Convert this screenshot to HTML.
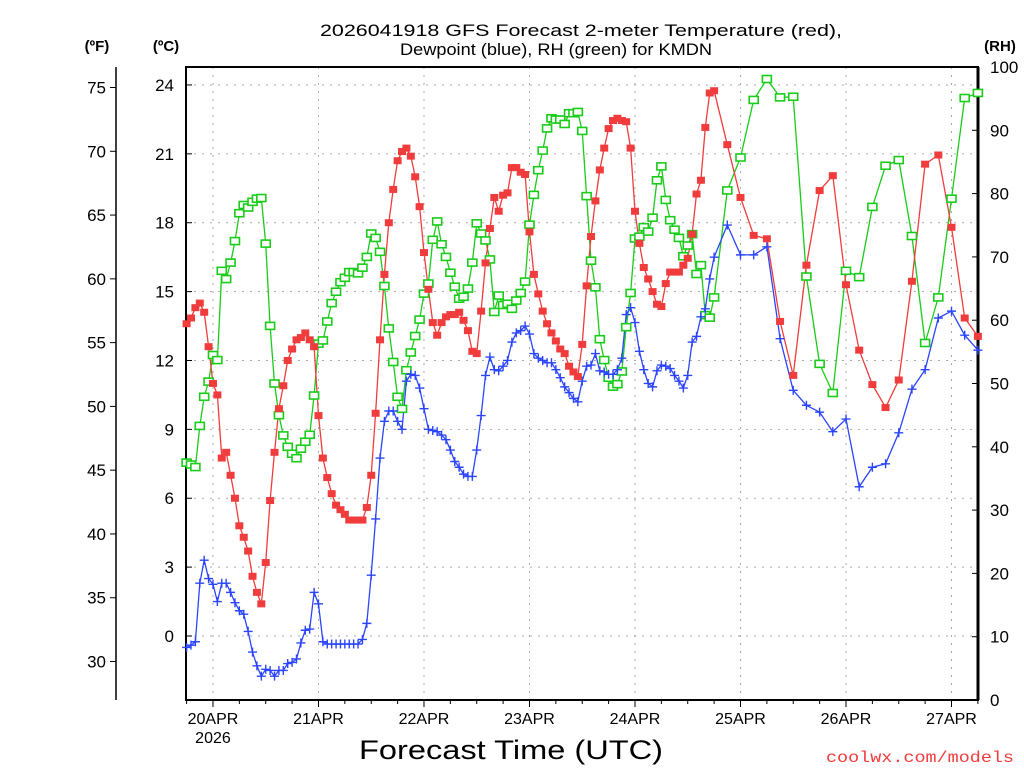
<!DOCTYPE html>
<html><head><meta charset="utf-8"><style>
html,body{margin:0;padding:0;background:#fff;width:1024px;height:768px;overflow:hidden}
svg text{font-family:"Liberation Sans",sans-serif}
</style></head><body>
<svg id="chart" width="1024" height="768" xmlns="http://www.w3.org/2000/svg">
<g id="grid"></g>
<g id="axes"></g>
<g id="series"></g>
<text x="581" y="36" text-anchor="middle" font-size="17" textLength="522" lengthAdjust="spacingAndGlyphs">2026041918 GFS Forecast 2-meter Temperature (red),</text>
<text x="556" y="55" text-anchor="middle" font-size="17" textLength="312" lengthAdjust="spacingAndGlyphs">Dewpoint (blue), RH (green) for KMDN</text>
<text x="97" y="51" text-anchor="middle" font-size="15" font-weight="bold">(ºF)</text>
<text x="166" y="51" text-anchor="middle" font-size="15" font-weight="bold">(ºC)</text>
<text x="1000" y="51" text-anchor="middle" font-size="15" font-weight="bold">(RH)</text>
<text x="511" y="759" text-anchor="middle" font-size="27" textLength="304" lengthAdjust="spacingAndGlyphs">Forecast Time (UTC)</text>
<text x="920" y="762" text-anchor="middle" font-size="16" fill="#f03c3c" textLength="188" lengthAdjust="spacingAndGlyphs" style="font-family:'Liberation Mono',monospace">coolwx.com/models</text>
</svg>
<script>
const tempHours = [];
for (let h = 0; h <= 120; h++) tempHours.push(h);
for (let h = 123; h <= 180; h += 3) tempHours.push(h);
const tempC = [13.6,13.85,14.3,14.5,14.1,12.6,11.0,10.5,7.75,8.0,
7.0,6.0,4.8,4.3,3.7,2.6,1.9,1.4,3.2,5.9,
8.0,9.9,10.9,12.0,12.5,12.9,13.0,13.2,12.9,12.6,
9.6,7.75,6.9,6.2,5.7,5.5,5.3,5.05,5.05,5.05,
5.05,5.6,7.0,9.7,12.9,15.75,18.0,19.45,20.7,21.1,
21.25,20.9,20.0,18.7,16.7,15.1,13.65,13.1,13.65,13.9,
14.0,14.0,14.1,13.75,13.3,12.4,12.3,14.15,16.25,17.75,
19.1,18.5,19.2,19.3,20.4,20.4,20.2,20.1,17.6,15.75,
14.9,14.15,13.6,13.2,12.85,12.5,12.3,11.75,11.5,11.3,
12.7,15.25,17.4,18.95,20.3,21.25,22.1,22.45,22.55,22.45,
22.4,21.25,18.5,17.1,16.05,15.55,15.0,14.45,14.35,15.35,
15.85,15.85,15.85,16.15,16.45,17.5,19.25,19.85,22.15,23.65,
23.75,
21.4,19.1,17.45,17.3,13.7,11.35,16.15,19.4,20.05,15.3,12.45,10.95,9.95,11.15,15.45,20.55,20.95,17.8,13.85,13.05];
const dewC = [-0.5,-0.4,-0.25,2.3,3.3,2.5,2.25,1.5,2.3,2.3,
1.9,1.45,1.1,0.95,0.2,-0.7,-1.3,-1.75,-1.45,-1.5,
-1.75,-1.5,-1.5,-1.2,-1.15,-1.0,-0.3,0.25,0.3,1.9,
1.4,-0.25,-0.35,-0.35,-0.35,-0.35,-0.35,-0.35,-0.35,-0.35,
-0.15,0.55,2.65,5.1,7.75,9.35,9.8,9.8,9.35,9.0,
11.1,11.4,11.35,10.8,9.9,9.0,8.95,8.9,8.75,8.55,
8.1,7.6,7.35,7.05,6.95,6.95,8.1,9.6,11.35,12.15,
11.6,11.55,11.75,12.0,12.8,13.2,13.3,13.5,13.15,12.3,
12.1,12.0,11.9,11.9,11.6,11.25,10.85,10.6,10.35,10.2,
11.1,11.75,11.8,12.3,11.55,11.5,11.4,11.4,11.6,12.1,
14.0,14.3,13.65,12.4,11.6,11.0,10.85,11.55,11.8,11.75,
11.65,11.35,11.1,10.8,11.35,12.8,13.05,13.9,14.25,15.55,
16.5,
17.9,16.6,16.6,16.95,12.95,10.7,10.05,9.75,8.9,9.45,6.5,7.35,7.5,8.85,10.75,11.6,13.85,14.15,13.1,12.45];
const rhPct = [37.5,37.2,36.8,43.3,47.9,50.3,54.5,53.7,67.8,66.5,
69.1,72.5,76.9,78.2,77.8,78.7,79.2,79.3,72.1,59.1,
50.0,45.0,41.8,40.0,38.9,38.2,39.7,40.8,41.9,48.1,
56.3,56.8,59.8,62.7,64.5,66.0,66.7,67.6,67.6,67.4,
68.3,70.0,73.7,73.0,70.8,65.4,58.7,53.4,47.9,46.0,
52.1,54.9,57.5,60.1,64.2,65.8,72.7,75.6,72.0,70.0,
67.5,65.3,63.4,63.7,65.0,69.1,75.3,73.7,72.6,69.6,
61.3,63.9,62.4,62.6,61.8,63.1,64.3,66.1,75.1,79.8,
83.7,86.8,90.3,91.9,91.7,91.7,91.0,92.7,92.7,92.9,
89.9,79.6,69.4,65.2,57.0,53.7,50.9,49.5,49.9,51.9,
58.9,64.3,72.9,73.2,74.7,74.0,76.2,82.1,84.3,79.0,
75.8,74.3,73.0,70.1,71.8,73.6,67.3,68.7,60.8,60.4,
63.6,
80.5,85.7,94.8,98.1,95.2,95.3,66.9,53.1,48.5,67.8,66.8,77.9,84.4,85.3,73.3,56.4,63.6,79.2,95.1,95.9];
const celsiusTicks = [0,3,6,9,12,15,18,21,24];
const fahrenheitTicks = [30,35,40,45,50,55,60,65,70,75];
const rhTicks = [0,10,20,30,40,50,60,70,80,90,100];
const dayLabels = ["20APR","21APR","22APR","23APR","24APR","25APR","26APR","27APR"];
const dayHours = [6,30,54,78,102,126,150,174];

const L=186, R=978, T=67, B=700;
function xH(h){return 186.6 + h*4.396;}
function yC(c){return 636 - c*22.96;}
function yRH(r){return 700 - r*6.33;}
function yF(f){return yC((f-32)*5/9);}
const NS="http://www.w3.org/2000/svg";
function mk(tag, attrs, parent){const e=document.createElementNS(NS,tag);for(const k in attrs)e.setAttribute(k,attrs[k]);parent.appendChild(e);return e;}
const grid=document.getElementById('grid'), axes=document.getElementById('axes'), series=document.getElementById('series');

celsiusTicks.forEach(c=>{
  const l=mk('line',{x1:L,x2:R,y1:yC(c),y2:yC(c),stroke:'#aaa','stroke-width':1,'stroke-dasharray':'2,6'},grid);
  
  
  mk('line',{x1:L,x2:L+6,y1:yC(c),y2:yC(c),stroke:'#000','stroke-width':1},axes);
  const tx=mk('text',{x:L-12,y:yC(c)+6,'text-anchor':'end','font-size':17},axes);
  tx.textContent=c;
  
  
});
dayHours.forEach((h,i)=>{
  const l=mk('line',{x1:xH(h),x2:xH(h),y1:T,y2:B,stroke:'#aaa','stroke-width':1,'stroke-dasharray':'2,6'},grid);
  
  
  mk('line',{x1:xH(h),x2:xH(h),y1:B,y2:B+7,stroke:'#000','stroke-width':1},axes);
  const tx=mk('text',{x:xH(h),y:724,'text-anchor':'middle','font-size':16},axes);
  tx.textContent=dayLabels[i];
  
  
});
for(let h=0;h<=180;h+=6){mk('line',{x1:xH(h),x2:xH(h),y1:B,y2:B+4,stroke:'#000','stroke-width':1},axes);}
const yr=mk('text',{x:xH(6),y:743,'text-anchor':'middle','font-size':16},axes);
yr.textContent='2026';



const fl=mk('line',{x1:116,x2:116,y1:T,y2:B,stroke:'#000','stroke-width':1.5},axes);


fahrenheitTicks.forEach(f=>{
  mk('line',{x1:110,x2:116,y1:yF(f),y2:yF(f),stroke:'#000','stroke-width':1},axes);
  const tx=mk('text',{x:106,y:yF(f)+6,'text-anchor':'end','font-size':17},axes);
  tx.textContent=f;
  
  
});
rhTicks.forEach(r=>{
  mk('line',{x1:R-6,x2:R,y1:yRH(r),y2:yRH(r),stroke:'#000','stroke-width':1},axes);
  const tx=mk('text',{x:990,y:yRH(r)+6,'text-anchor':'start','font-size':17},axes);
  tx.textContent=r;
  
  
});
const frame=mk('rect',{x:L,y:T,width:R-L,height:B-T,fill:'none',stroke:'#000','stroke-width':2},axes);


mk('line',{x1:R,x2:R,y1:T,y2:B,stroke:'#000','stroke-width':3},axes);

function line(vals, yf, color, name){
  const pts=vals.map((v,i)=>xH(tempHours[i]).toFixed(1)+','+yf(v).toFixed(1)).join(' ');
  const p=mk('polyline',{points:pts,fill:'none',stroke:color,'stroke-width':1.3},series);
  
  
}
line(rhPct,yRH,'#19cc19','rh-line');
line(dewC,yC,'#2b45ff','dewpoint-line');
line(tempC,yC,'#f03c3c','temperature-line');

rhPct.forEach((v,i)=>{
  const m=mk('rect',{x:xH(tempHours[i])-4.5,y:yRH(v)-3.5,width:9,height:7,fill:'#fff',stroke:'#19cc19','stroke-width':1.6},series);
  
  
});
dewC.forEach((v,i)=>{
  const x=xH(tempHours[i]), y=yC(v);
  const m=mk('path',{d:`M${x-4.5},${y}H${x+4.5}M${x},${y-4.5}V${y+4.5}`,stroke:'#2b45ff','stroke-width':1.4,fill:'none'},series);
  
  
});
tempC.forEach((v,i)=>{
  const m=mk('rect',{x:xH(tempHours[i])-4,y:yC(v)-3.5,width:8,height:7,fill:'#f03c3c'},series);
  
  
});
</script>
</body></html>
